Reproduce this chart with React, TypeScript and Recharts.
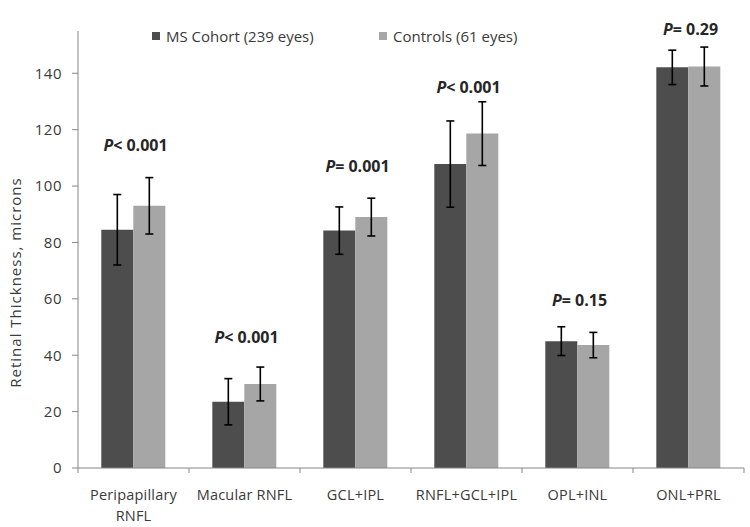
import React from 'react';
import { ComposedChart, Bar, XAxis, YAxis, ErrorBar, Legend, ReferenceDot, Text } from 'recharts';

const categories = ['Peripapillary RNFL', 'Macular RNFL', 'GCL+IPL', 'RNFL+GCL+IPL', 'OPL+INL', 'ONL+PRL'];
const msMean = [84.5, 23.5, 84.2, 107.8, 45.0, 142.1];
const msSd = [12.5, 8.2, 8.4, 15.3, 5.1, 6.1];
const ctrlMean = [93.0, 29.8, 89.0, 118.6, 43.6, 142.4];
const ctrlSd = [10.0, 6.0, 6.7, 11.3, 4.5, 6.9];
const pValues = ['< 0.001', '< 0.001', '= 0.001', '< 0.001', '= 0.15', '= 0.29'];
const pValueAnchor = [114.6, 46.6, 107.2, 135.2, 59.7, 155.7];
const yTicks = [0, 20, 40, 60, 80, 100, 120, 140];
const seriesNames = ['MS Cohort (239 eyes)', 'Controls (61 eyes)'];

const data = categories.map((c, i) => ({
  name: c,
  ms: msMean[i],
  msErr: msSd[i],
  ctrl: ctrlMean[i],
  ctrlErr: ctrlSd[i],
}));

const W = 750;
const H = 527;
const MARGIN = { top: 13, right: 6, bottom: 1, left: 0 };
const Y_AXIS_W = 78;
const PLOT_W = W - MARGIN.left - MARGIN.right - Y_AXIS_W;
const HALF_BAND = PLOT_W / categories.length / 2;

const DARK = '#4d4d4d';
const LIGHT = '#a6a6a6';
const AXIS = '#868686';
const TEXT = '#3a3a3a';
const FONT = '"Open Sans", sans-serif';

const XTick = (props: any) => {
  const { x, y, payload, index } = props;
  const last = index === categories.length - 1;
  return (
    <g>
      <line x1={x - HALF_BAND} y1={y} x2={x - HALF_BAND} y2={y + 5} stroke={AXIS} strokeWidth={1} />
      {last && <line x1={x + HALF_BAND} y1={y} x2={x + HALF_BAND} y2={y + 5} stroke={AXIS} strokeWidth={1} />}
      <Text
        x={x}
        y={y + 22}
        width={100}
        textAnchor="middle"
        verticalAnchor="start"
        lineHeight={21}
        fill={TEXT}
        fontSize={14.5}
        fontFamily={FONT}
        letterSpacing={0.2}
      >
        {payload.value}
      </Text>
    </g>
  );
};

const PLabel = (props: any) => {
  const { viewBox, text } = props;
  const cx = viewBox.x + (viewBox.width || 0) / 2;
  const cy = viewBox.y + (viewBox.height || 0) / 2;
  return (
    <text
      x={cx + 2}
      y={cy}
      textAnchor="middle"
      dominantBaseline="central"
      fontFamily={FONT}
      fontWeight="bold"
      fontSize={16}
      fill="#262626"
    >
      <tspan fontStyle="italic">P</tspan>
      <tspan>{text}</tspan>
    </text>
  );
};

const LegendContent = () => (
  <div style={{ display: 'flex', fontFamily: FONT, fontSize: 15, color: TEXT, lineHeight: '18px' }}>
    {seriesNames.map((n, i) => (
      <div key={n} style={{ display: 'flex', alignItems: 'center', width: i === 0 ? 227 : 'auto' }}>
        <span style={{ width: 8, height: 8, background: i === 0 ? DARK : LIGHT, display: 'inline-block', marginRight: 6 }} />
        <span>{n}</span>
      </div>
    ))}
  </div>
);

const YLabel = (props: any) => {
  const { viewBox } = props;
  const cx = viewBox.x + 15;
  const cy = viewBox.y + viewBox.height / 2 + 33;
  return (
    <text
      x={cx}
      y={cy}
      transform={`rotate(-90, ${cx}, ${cy})`}
      textAnchor="middle"
      dominantBaseline="central"
      fontFamily={FONT}
      fontSize={15}
      letterSpacing={1}
      fill={TEXT}
    >
      Retinal Thickness, microns
    </text>
  );
};

export default function App() {
  return (
    <div style={{ position: 'absolute', left: 0, top: 0, background: '#fff' }}>
      <ComposedChart width={W} height={H} data={data} margin={MARGIN} barCategoryGap="21%" barGap={0}>
        <XAxis
          dataKey="name"
          height={58}
          stroke={AXIS}
          tickLine={false}
          tickSize={0}
          tickMargin={0}
          interval={0}
          tick={<XTick />}
        />
        <YAxis
          width={Y_AXIS_W}
          domain={[0, 155]}
          ticks={yTicks}
          allowDataOverflow
          stroke={AXIS}
          tickSize={6}
          tickMargin={10}
          tick={{ fill: TEXT, fontSize: 15, fontFamily: FONT, letterSpacing: 0.5 }}
          label={{ content: (p: any) => <YLabel {...p} /> }}
        />
        <Legend
          verticalAlign="top"
          content={<LegendContent />}
          wrapperStyle={{ position: 'absolute', top: 27, left: 152, width: 'auto' }}
        />
        <Bar dataKey="ms" name={seriesNames[0]} fill={DARK} isAnimationActive={false}>
          <ErrorBar dataKey="msErr" width={4} stroke="#000" strokeWidth={1.6} direction="y" />
        </Bar>
        <Bar dataKey="ctrl" name={seriesNames[1]} fill={LIGHT} isAnimationActive={false}>
          <ErrorBar dataKey="ctrlErr" width={4} stroke="#000" strokeWidth={1.6} direction="y" />
        </Bar>
        {categories.map((c, i) => (
          <ReferenceDot
            key={c}
            x={c}
            y={pValueAnchor[i]}
            r={0}
            fill="none"
            stroke="none"
            ifOverflow="visible"
            label={<PLabel text={pValues[i]} />}
          />
        ))}
      </ComposedChart>
    </div>
  );
}
